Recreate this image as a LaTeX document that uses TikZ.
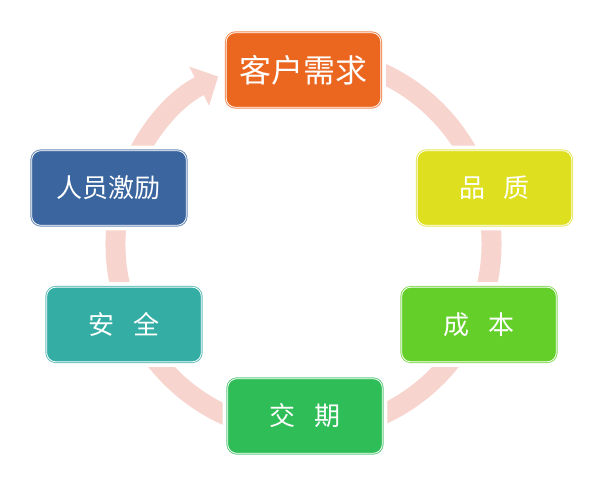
\documentclass[tikz,border=0pt]{standalone}
\usepackage{fontspec}
\newfontfamily\cjk{Noto Sans CJK SC}
\usetikzlibrary{arrows.meta}
\definecolor{ringpink}{RGB}{247,213,206}
\definecolor{cOrange}{RGB}{235,102,31}
\definecolor{cYellow}{RGB}{222,223,31}
\definecolor{cLime}{RGB}{100,207,41}
\definecolor{cGreen}{RGB}{46,189,87}
\definecolor{cTeal}{RGB}{52,173,165}
\definecolor{cBlue}{RGB}{58,101,158}

\begin{document}
\begin{tikzpicture}[x=0.75pt,y=0.75pt,
  box/.style={rounded corners=7pt, minimum width=116pt, minimum height=56pt,
    fill=#1, draw=white, line width=.6pt, text=white,
    preaction={draw=white, line width=7.5pt},
    preaction={draw=#1!75, line width=2pt},
    font=\cjk\fontsize{19.5}{21}\selectfont}]
\useasboundingbox (-303.5,-234) rectangle (300.5,244);
\draw[ringpink, line width=15pt, -{Triangle[width=32pt,length=16pt]}]
  (80:188) arc[start angle=80, end angle=-243, radius=188];
\node[box=cOrange, font=\cjk\fontsize{24}{26}\selectfont] (need) at (0,174) {客户需求};
\node[box=cYellow] (quality) at (191,56) {品\hspace{.7em}质};
\node[box=cLime]   (cost)    at (175.5,-80.5) {成\hspace{.7em}本};
\node[box=cGreen]  (delivery) at (1.5,-172) {交\hspace{.7em}期};
\node[box=cTeal]   (safety)  at (-179.5,-80.5) {安\hspace{.7em}全};
\node[box=cBlue]   (morale)  at (-194.5,56) {人员激励};
\end{tikzpicture}
\end{document}
